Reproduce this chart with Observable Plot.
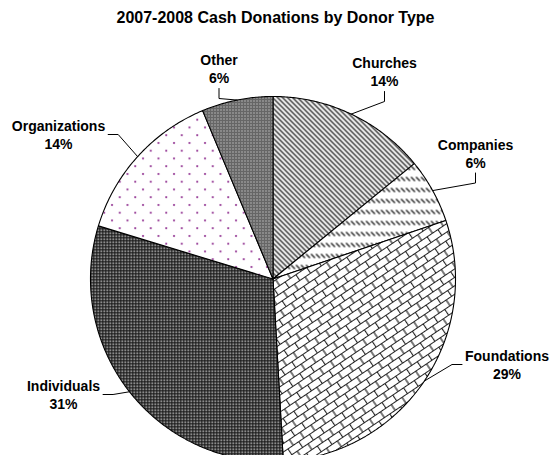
<!DOCTYPE html>
<html><head><meta charset="utf-8">
<script src="https://cdn.jsdelivr.net/npm/d3@7"></script>
<script src="https://cdn.jsdelivr.net/npm/@observablehq/plot@0.6"></script>
<style>html,body{margin:0;padding:0;background:#fff}svg{display:block}</style>
</head><body><div id="chart"></div>
<script>
// ---- data ----
const categories = ["Churches", "Companies", "Foundations", "Individuals", "Organizations", "Other"];
const shares = [14.1, 5.7, 29.3, 30.6, 14.0, 6.3];
const title = "2007-2008 Cash Donations by Donor Type";

// ---- layout / style ----
const W = 550, H = 455, CX = 272.5, CY = 278.5, R = 182.5;
const FONT = "'Liberation Sans', Arial, Helvetica, sans-serif";
const fills = {
  Churches: "url(#p-churches)", Companies: "url(#p-companies)", Foundations: "url(#p-foundations)",
  Individuals: "url(#p-individuals)", Organizations: "url(#p-organizations)", Other: "url(#p-other)"
};
const labelLayout = {
  Churches: {x: 384, y: 71, leader: "below"},
  Companies: {x: 475, y: 152.5, leader: "below"},
  Foundations: {x: 506.5, y: 364, leader: "left"},
  Individuals: {x: 63, y: 394, leader: "right"},
  Organizations: {x: 58, y: 134, leader: "right"},
  Other: {x: 218.5, y: 68, leader: "below"}
};

const toUnit = ([px, py]) => ({x: (px - CX) / R, y: (CY - py) / R});

const total = d3.sum(shares);
let acc = 0;
const slices = categories.map((name, i) => {
  const a0 = acc / total * 2 * Math.PI; acc += shares[i];
  const a1 = acc / total * 2 * Math.PI;
  return {name, value: shares[i], pct: Math.round(shares[i] / total * 100) + "%", a0, a1, mid: (a0 + a1) / 2};
});
function slicePoints(s) {
  const n = Math.max(2, Math.ceil((s.a1 - s.a0) / (Math.PI / 360)));
  const pts = [{x: 0, y: 0}];
  for (let k = 0; k <= n; k++) {
    const a = s.a0 + (s.a1 - s.a0) * k / n;
    pts.push({x: Math.sin(a), y: Math.cos(a)});
  }
  pts.push({x: 0, y: 0});
  return pts;
}

const ctx = document.createElement("canvas").getContext("2d");
ctx.font = "bold 14px " + FONT;
const leaders = slices.flatMap(s => {
  const L = labelLayout[s.name];
  const w = Math.max(ctx.measureText(s.name).width, ctx.measureText(s.pct).width);
  let p0, p1;
  if (L.leader === "below") { p0 = [L.x, L.y + 20]; p1 = [L.x, L.y + 30]; }
  else if (L.leader === "left") { p0 = [L.x - w / 2 - 3, L.y]; p1 = [p0[0] - 10, L.y]; }
  else { p0 = [L.x + w / 2 + 3, L.y]; p1 = [p0[0] + 10, L.y]; }
  return [{name: s.name, ...toUnit(p0)}, {name: s.name, ...toUnit(p1)}, {name: s.name, x: Math.sin(s.mid), y: Math.cos(s.mid)}];
});
const labels = slices.map(s => ({...toUnit([labelLayout[s.name].x, labelLayout[s.name].y]), text: s.name + "\n" + s.pct}));

const defsMark = () => {
  const g = document.createElementNS("http://www.w3.org/2000/svg", "g");
  g.innerHTML = `<defs>
  <pattern id="p-churches" width="5" height="5" patternUnits="userSpaceOnUse">
    <rect width="5" height="5" fill="#fff"/>
    <path d="M-1,-1L6,6M-1,4L1,6M4,-1L6,1" stroke="#2a2a2a" stroke-width="1.4"/>
  </pattern>
  <pattern id="p-companies" width="5" height="11" patternUnits="userSpaceOnUse">
    <rect width="5" height="11" fill="#fff"/>
    <path d="M0.5,0.5L4.5,4.5" stroke="#2a2a2a" stroke-width="1.4"/>
  </pattern>
  <pattern id="p-foundations" width="13" height="14" patternUnits="userSpaceOnUse" patternTransform="rotate(-34)">
    <rect width="13" height="14" fill="#fff"/>
    <path d="M0,0.5H13M0,7.5H13M0.5,0.5V7.5M7,7.5V14.5" stroke="#222" stroke-width="1.2" fill="none"/>
  </pattern>
  <pattern id="p-individuals" width="3" height="3" patternUnits="userSpaceOnUse">
    <rect width="3" height="3" fill="#161616"/>
    <rect x="1" y="1" width="1.5" height="1.5" fill="#e6e6e6"/>
  </pattern>
  <pattern id="p-other" width="3" height="3" patternUnits="userSpaceOnUse">
    <rect width="3" height="3" fill="#666"/>
    <rect x="1" y="1" width="1" height="1" fill="#f2f2f2"/>
  </pattern>
  <pattern id="p-organizations" width="15.5" height="15.5" patternUnits="userSpaceOnUse">
    <rect width="15.5" height="15.5" fill="#fff"/>
    <circle cx="3" cy="3" r="1.1" fill="#933593"/>
    <circle cx="10.75" cy="10.75" r="1.1" fill="#933593"/>
  </pattern>
  </defs>`;
  return g;
};

const plot = Plot.plot({
  width: W, height: H, margin: 0,
  x: {domain: [-1, 1], range: [CX - R, CX + R], axis: null},
  y: {domain: [-1, 1], range: [CY + R, CY - R], axis: null},
  style: {fontFamily: FONT, background: "#fff", color: "#000"},
  marks: [
    defsMark,
    ...slices.map(s => Plot.line(slicePoints(s), {x: "x", y: "y", fill: fills[s.name], stroke: "#000", strokeWidth: 1.1, strokeLinejoin: "miter"})),
    Plot.line(leaders, {x: "x", y: "y", z: "name", stroke: "#000", strokeWidth: 1}),
    Plot.text(labels, {x: "x", y: "y", text: "text", fontSize: 14, fontWeight: "bold", lineHeight: 1.3, lineAnchor: "middle", fill: "#000"}),
    Plot.text([title], {frameAnchor: "top", dy: 11, fontSize: 16, fontWeight: "bold", fill: "#000"})
  ]
});
document.getElementById("chart").appendChild(plot);
</script>
</body></html>
